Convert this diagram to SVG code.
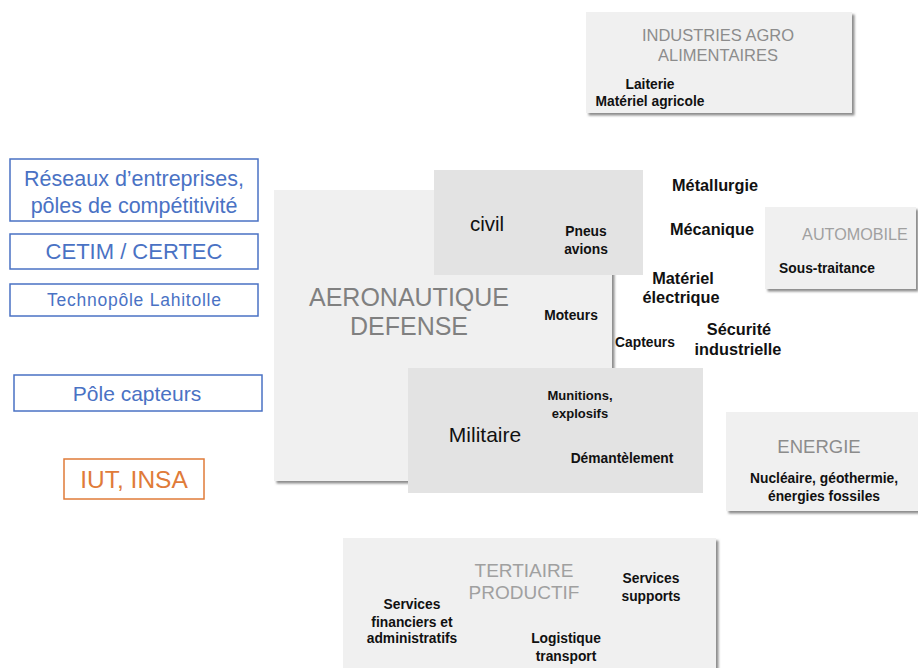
<svg xmlns="http://www.w3.org/2000/svg" width="918" height="668" viewBox="0 0 918 668">
<defs>
<filter id="sh" x="-5%" y="-5%" width="115%" height="115%">
<feDropShadow dx="2.5" dy="2.5" stdDeviation="0.8" flood-color="#808080" flood-opacity="0.9"/>
</filter>
<style>
text{font-family:"Liberation Sans",Arial,sans-serif;text-anchor:middle}
.box{fill:#f0f0f0;filter:url(#sh)}
.sub{fill:#e3e3e3}
.h{fill:#8c8c8c}
.b{font-weight:bold;font-size:13.8px;fill:#111}
.bb{font-weight:bold;font-size:16.3px;fill:#111}
.bl{fill:none;stroke:#4a72c4;stroke-width:1.5}
.bt{fill:#4a72c4;font-size:21.5px}
</style>
</defs>
<rect width="918" height="668" fill="#fff"/>
<g id="connectors"/>

<g id="iaa">
<rect class="box" x="586" y="12" width="266" height="101"/>
<text class="h" x="718" y="41" style="font-size:16.5px">INDUSTRIES AGRO</text>
<text class="h" x="718" y="61" style="font-size:16.5px">ALIMENTAIRES</text>
<text class="b" x="650" y="89">Laiterie</text>
<text class="b" x="650" y="106">Matériel agricole</text>
</g>

<g id="reseaux">
<rect class="bl" x="10" y="159" width="248" height="62"/>
<text class="bt" x="134" y="186">Réseaux d’entreprises,</text>
<text class="bt" x="134" y="213">pôles de compétitivité</text>
</g>
<g id="cetim">
<rect class="bl" x="10" y="234" width="248" height="35"/>
<text class="bt" x="134" y="259" style="font-size:22px">CETIM / CERTEC</text>
</g>
<g id="technopole">
<rect class="bl" x="10" y="284" width="248" height="32"/>
<text class="bt" x="134" y="306" style="font-size:17.5px" textLength="174" lengthAdjust="spacing">Technopôle Lahitolle</text>
</g>
<g id="pole-capteurs">
<rect class="bl" x="14" y="375" width="248" height="36"/>
<text class="bt" x="137" y="401" style="font-size:21px">Pôle capteurs</text>
</g>
<g id="iut">
<rect x="64" y="459" width="140" height="40" fill="none" stroke="#e07b39" stroke-width="1.5"/>
<text x="134" y="488" font-size="24.5" fill="#e07b39">IUT, INSA</text>
</g>

<g id="aero">
<rect class="box" x="274" y="190" width="338" height="291"/>
<text x="409" y="306" font-size="25" fill="#808080">AERONAUTIQUE</text>
<text x="409" y="335" font-size="25" fill="#808080">DEFENSE</text>
<text class="b" x="571" y="320">Moteurs</text>
</g>
<g id="civil">
<rect class="sub" x="434" y="170" width="209" height="105"/>
<text x="487" y="231" font-size="20.5" fill="#111">civil</text>
<text class="b" x="586" y="236">Pneus</text>
<text class="b" x="586" y="254">avions</text>
</g>
<g id="militaire">
<rect class="sub" x="408" y="368" width="295" height="125"/>
<text x="485" y="442" font-size="21" fill="#111">Militaire</text>
<text class="b" x="580" y="400" style="font-size:13px">Munitions,</text>
<text class="b" x="580" y="418" style="font-size:13px">explosifs</text>
<text class="b" x="622" y="463">Démantèlement</text>
</g>

<g id="capteurs"><text class="b" x="645" y="347">Capteurs</text></g>
<g id="metallurgie"><text class="bb" x="715" y="191">Métallurgie</text></g>
<g id="mecanique"><text class="bb" x="712" y="235">Mécanique</text></g>
<g id="materiel-elec">
<text class="bb" x="683" y="284">Matériel</text>
<text class="bb" x="681" y="303">électrique</text>
</g>
<g id="securite">
<text class="bb" x="739" y="335">Sécurité</text>
<text class="bb" x="738" y="355">industrielle</text>
</g>

<g id="automobile">
<rect class="box" x="765" y="207" width="151" height="82"/>
<text x="855" y="240" font-size="16.2" fill="#a0a0a0">AUTOMOBILE</text>
<text class="b" x="827" y="273">Sous-traitance</text>
</g>

<g id="energie">
<rect class="box" x="726" y="412" width="192" height="99"/>
<text x="819" y="453" font-size="18.5" fill="#8c8c8c">ENERGIE</text>
<text class="b" x="824" y="483">Nucléaire, géothermie,</text>
<text class="b" x="824" y="501">énergies fossiles</text>
</g>

<g id="tertiaire">
<rect class="box" x="343" y="538" width="373" height="140"/>
<text x="524" y="577" font-size="19" fill="#a0a0a0">TERTIAIRE</text>
<text x="524" y="599" font-size="19" fill="#a0a0a0">PRODUCTIF</text>
<text class="b" x="412" y="609">Services</text>
<text class="b" x="412" y="627">financiers et</text>
<text class="b" x="412" y="643">administratifs</text>
<text class="b" x="651" y="583">Services</text>
<text class="b" x="651" y="601">supports</text>
<text class="b" x="566" y="643">Logistique</text>
<text class="b" x="566" y="661">transport</text>
</g>
</svg>
